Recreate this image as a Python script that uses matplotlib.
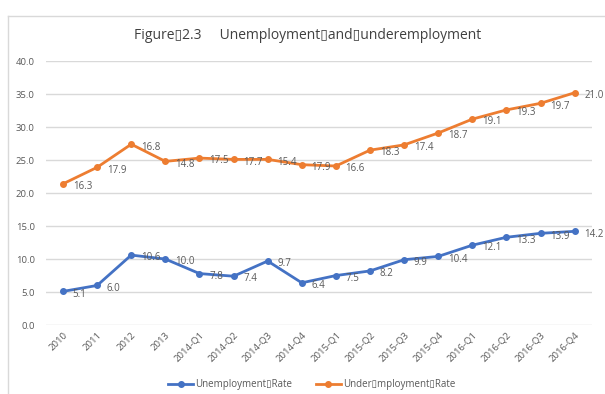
import matplotlib
matplotlib.use("Agg")
import matplotlib.pyplot as plt
from matplotlib.lines import Line2D
import numpy as np

BLUE = "#4472C4"
ORANGE = "#ED7D31"
TXT = "#595959"
GRID = "#D9D9D9"
BOX = "\u25af"

periods = ["2010", "2011", "2012", "2013", "2014-Q1", "2014-Q2", "2014-Q3", "2014-Q4",
           "2015-Q1", "2015-Q2", "2015-Q3", "2015-Q4", "2016-Q1", "2016-Q2", "2016-Q3", "2016-Q4"]
unemployment = [5.1, 6.0, 10.6, 10.0, 7.8, 7.4, 9.7, 6.4, 7.5, 8.2, 9.9, 10.4, 12.1, 13.3, 13.9, 14.2]
underemployment = [16.3, 17.9, 16.8, 14.8, 17.5, 17.7, 15.4, 17.9, 16.6, 18.3, 17.4, 18.7, 19.1, 19.3, 19.7, 21.0]
y_ticks = [0, 5, 10, 15, 20, 25, 30, 35, 40]

plt.rcParams["font.family"] = ["Open Sans", "DejaVu Sans"]

fig = plt.figure(figsize=(6.05, 3.94), dpi=100)
ax = fig.add_axes([0.076, 0.175, 0.902, 0.67])

x = np.arange(len(periods))
# stacked line chart: the second series sits on top of the first
stacked = np.array(unemployment) + np.array(underemployment)

ax.plot(x, unemployment, color=BLUE, lw=2, marker="o", ms=4, label=f"Unemployment{BOX}Rate", zorder=3)
ax.plot(x, stacked, color=ORANGE, lw=2, marker="o", ms=4, label=f"Under{BOX}mployment{BOX}Rate", zorder=3)

for xi, v in zip(x, unemployment):
    ax.annotate(f"{v:.1f}", (xi, v), xytext=(7, -2), textcoords="offset points",
                ha="left", va="center", fontsize=7, color=TXT, zorder=4)
for xi, s, v in zip(x, stacked, underemployment):
    ax.annotate(f"{v:.1f}", (xi, s), xytext=(7, -2), textcoords="offset points",
                ha="left", va="center", fontsize=7, color=TXT, zorder=4)

ax.set_xlim(-0.5, len(periods) - 0.5)
ax.set_ylim(0, 40)
ax.set_yticks(y_ticks)
ax.set_yticklabels([f"{t:.1f}" for t in y_ticks], fontsize=6.8, color=TXT)
ax.set_xticks(x)
ax.set_xticklabels(periods, rotation=45, ha="right", rotation_mode="anchor", fontsize=6.8, color=TXT)
ax.tick_params(length=0, pad=8)
ax.tick_params(axis="x", pad=4)
ax.set_frame_on(False)
ax.grid(axis="y", color=GRID, lw=1)
ax.set_axisbelow(True)

fig.text(0.508, 0.91, f"Figure{BOX}2.3     Unemployment{BOX}and{BOX}underemployment",
         ha="center", va="center", fontsize=10, color="#404040")

fig.legend(loc="center", bbox_to_anchor=(0.515, 0.023), ncol=2, frameon=False,
           fontsize=7, labelcolor=TXT, handlelength=2.6, columnspacing=2.4, handletextpad=0.2)

# chart border (only left and top edges fall inside the image)
fig.add_artist(Line2D([8 / 605, 8 / 605], [0, 1 - 16 / 394], color=GRID, lw=1, transform=fig.transFigure))
fig.add_artist(Line2D([8 / 605, 1], [1 - 16 / 394, 1 - 16 / 394], color=GRID, lw=1, transform=fig.transFigure))

fig.savefig("out.png", dpi=100)
